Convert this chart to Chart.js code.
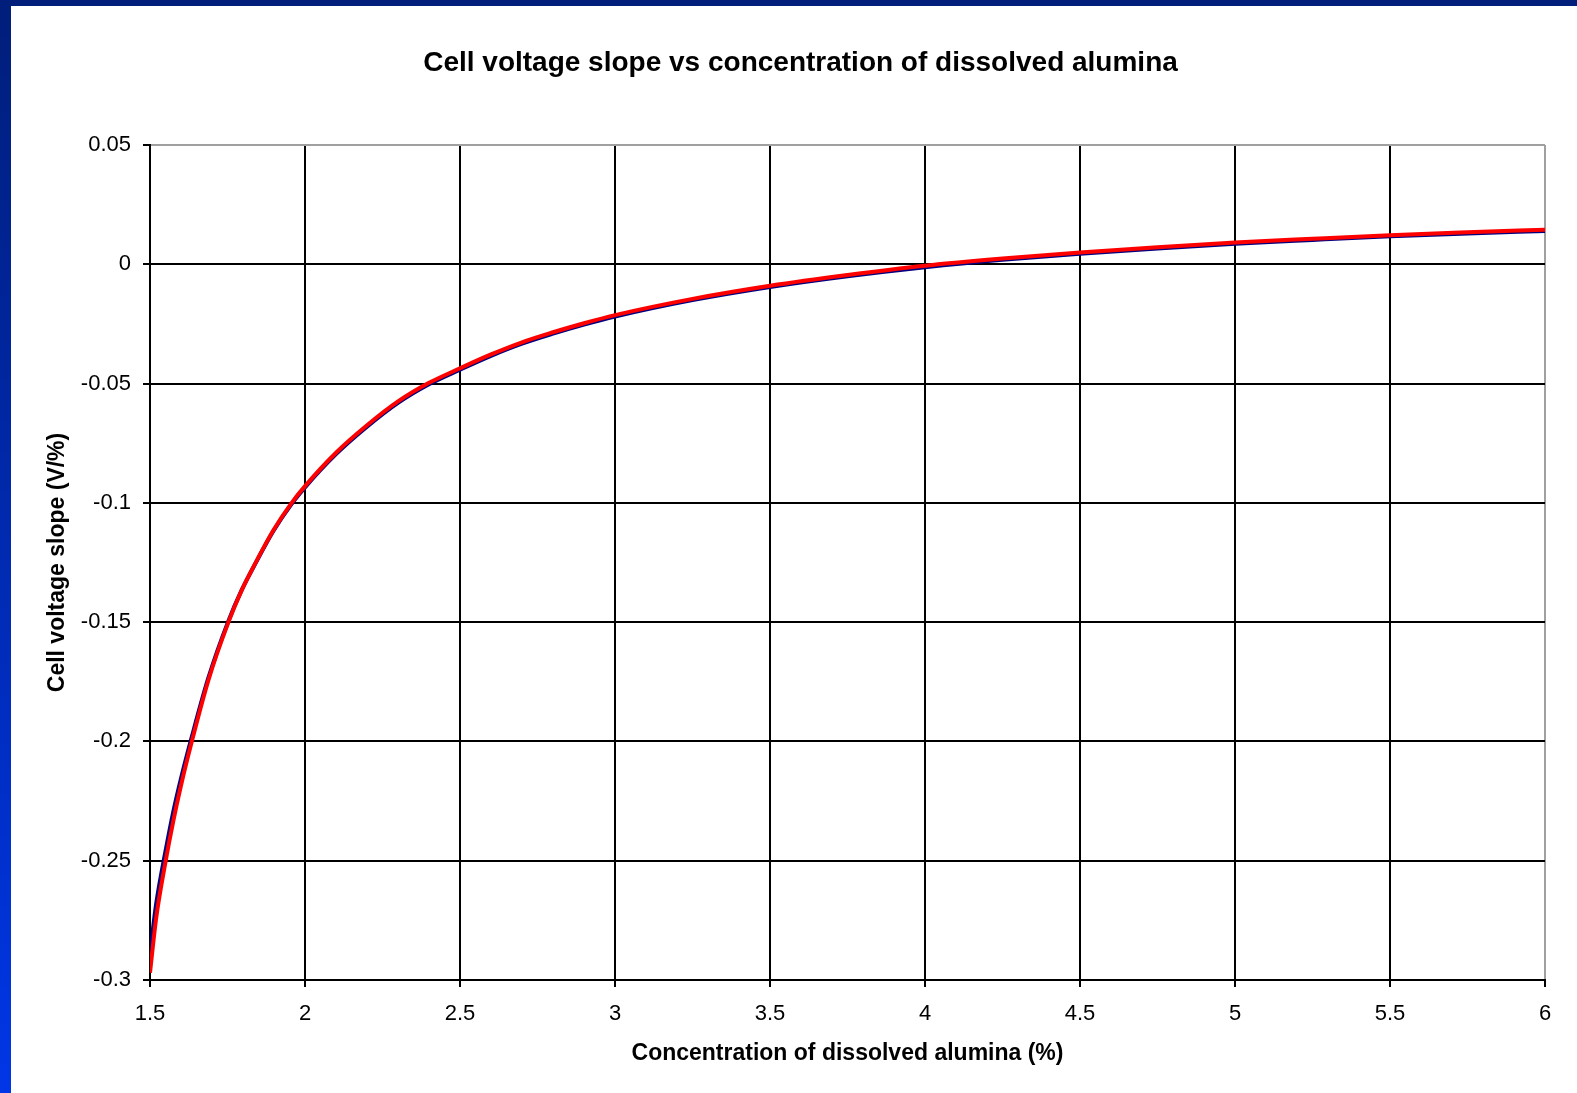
<!DOCTYPE html>
<html lang="en">
<head>
    <meta charset="utf-8"/>
    <title>Cell voltage slope</title>
    <script src="https://cdn.jsdelivr.net/npm/chart.js"></script>
    <style>
        html, body {
            margin: 0;
            padding: 0;
            width: 1577px;
            height: 1093px;
            overflow: hidden;
            background: linear-gradient(to bottom, #001e7a, #0036e6);
        }
        #panel {
            position: absolute;
            left: 11px;
            top: 6px;
            width: 1566px;
            height: 1087px;
            background: #ffffff;
        }
    </style>
</head>
<body>
    <div id="panel">
        <canvas id="myChart" width="1566" height="1087"></canvas>
    </div>
    <script>
        // concentration of dissolved alumina (%)
        var concentration = [1.5, 1.52, 1.55, 1.575, 1.6, 1.634, 1.688, 1.753, 1.796, 1.839, 1.898, 1.957,
            2.0, 2.1, 2.2, 2.3, 2.4, 2.5, 2.6, 2.7, 2.8, 2.9, 3.0, 3.25, 3.5, 3.75,
            4.0, 4.25, 4.5, 4.75, 5.0, 5.25, 5.5, 5.75, 6.0];
        // cell voltage slope (V/%), red curve
        var slopeRed = [-0.297, -0.274, -0.2505, -0.2335, -0.2185, -0.2005, -0.1745, -0.150, -0.1366, -0.1255, -0.1115, -0.100,
            -0.093, -0.079, -0.0675, -0.0575, -0.0497, -0.0436, -0.0378, -0.0327, -0.0285, -0.0247, -0.0213, -0.0145, -0.0090, -0.0045,
            -0.0006, 0.0024, 0.0049, 0.0071, 0.0091, 0.0107, 0.0122, 0.0134, 0.0145];
        // cell voltage slope (V/%), blue curve
        var slopeBlue = [-0.289, -0.268, -0.246, -0.2295, -0.2155, -0.1985, -0.1735, -0.1495, -0.1365, -0.1257, -0.1118, -0.1004,
            -0.0935, -0.0796, -0.0681, -0.0581, -0.0503, -0.0442, -0.0384, -0.0333, -0.0291, -0.0253, -0.0219, -0.0150, -0.0095, -0.0050,
            -0.0012, 0.0019, 0.0044, 0.0066, 0.0086, 0.0102, 0.0117, 0.0129, 0.0140];

        var xTicks = [1.5, 2, 2.5, 3, 3.5, 4, 4.5, 5, 5.5, 6];
        var yTicks = [-0.3, -0.25, -0.2, -0.15, -0.1, -0.05, 0, 0.05];

        function toPoints(xs, ys) {
            var pts = [];
            for (var i = 0; i < xs.length; i++) {
                pts.push({x: xs[i], y: ys[i]});
            }
            return pts;
        }

        // "2" not "2.0", "-0.1" not "-0.10"
        function plainLabel(v) {
            return String(Math.round(v * 100) / 100);
        }

        var fontFamily = "'Liberation Sans', Arial, sans-serif";

        var ctx = document.getElementById('myChart');
        var mychart = new Chart(ctx, {
            type: 'line',
            data: {
                datasets: [
                {
                    label: 'red',
                    data: toPoints(concentration, slopeRed),
                    borderColor: '#ff0000',
                    borderWidth: 4,
                    pointRadius: 0,
                    cubicInterpolationMode: 'monotone',
                    fill: false
                },
                {
                    label: 'blue',
                    data: toPoints(concentration, slopeBlue),
                    borderColor: '#000080',
                    borderWidth: 4,
                    pointRadius: 0,
                    cubicInterpolationMode: 'monotone',
                    fill: false
                }
                ]
            },
            options: {
                responsive: false,
                animation: false,
                layout: {
                    padding: {left: 13, right: 0, top: 0, bottom: 0}
                },
                plugins: {
                    legend: {display: false},
                    tooltip: {enabled: false},
                    title: {
                        display: true,
                        text: 'Cell voltage slope vs concentration of dissolved alumina',
                        color: '#000',
                        font: {family: fontFamily, size: 28, weight: 'bold'},
                        padding: {top: 40, bottom: 65.4}
                    }
                },
                scales: {
                    x: {
                        type: 'linear',
                        min: 1.5,
                        max: 6,
                        afterBuildTicks: function (axis) {
                            axis.ticks = xTicks.map(function (v) { return {value: v}; });
                        },
                        afterFit: function (axis) { axis.height = 113; },
                        ticks: {
                            color: '#000',
                            padding: 14,
                            maxRotation: 0,
                            font: {family: fontFamily, size: 22},
                            callback: plainLabel
                        },
                        grid: {
                            color: function (c) { return c.tick && c.tick.value === 6 ? '#a0a0a0' : '#000'; },
                            tickColor: '#000',
                            lineWidth: 2,
                            tickLength: 7
                        },
                        border: {display: true, color: '#000', width: 2},
                        title: {
                            display: true,
                            text: 'Concentration of dissolved alumina (%)',
                            color: '#000',
                            font: {family: fontFamily, size: 23, weight: 'bold'},
                            padding: {top: 0, bottom: 25.5}
                        }
                    },
                    y: {
                        type: 'linear',
                        min: -0.3,
                        max: 0.05,
                        afterBuildTicks: function (axis) {
                            axis.ticks = yTicks.map(function (v) { return {value: v}; });
                        },
                        afterFit: function (axis) { axis.width = 126; },
                        ticks: {
                            color: '#000',
                            padding: 12,
                            font: {family: fontFamily, size: 22},
                            callback: plainLabel
                        },
                        grid: {
                            color: function (c) { return c.tick && c.tick.value === 0.05 ? '#a0a0a0' : '#000'; },
                            tickColor: '#000',
                            lineWidth: 2,
                            tickLength: 7
                        },
                        border: {display: true, color: '#000', width: 2},
                        title: {
                            display: true,
                            text: 'Cell voltage slope (V/%)',
                            color: '#000',
                            font: {family: fontFamily, size: 23, weight: 'bold'},
                            padding: {top: 19.5, bottom: 0}
                        }
                    },
                    yRight: {
                        type: 'linear',
                        position: 'right',
                        axis: 'y',
                        display: true,
                        afterFit: function (axis) { axis.width = 32; },
                        ticks: {display: false},
                        grid: {display: false},
                        border: {display: false}
                    }
                }
            }
        });
    </script>
</body>
</html>
